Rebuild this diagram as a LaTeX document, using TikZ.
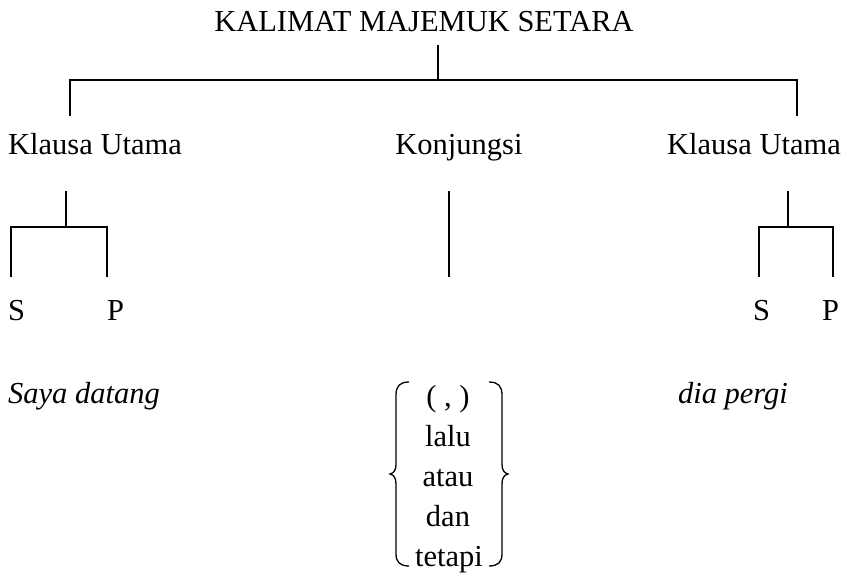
\documentclass[tikz,border=0pt]{standalone}
\usepackage{fontspec}
\setmainfont{Liberation Serif}
\begin{document}
\begin{tikzpicture}[x=1pt,y=-1pt,
  lbl/.style={inner sep=0pt, font=\fontsize{30.5}{38}\selectfont},
  itl/.style={inner sep=0pt, font=\fontsize{30.5}{38}\selectfont\itshape},
  tree/.style={line width=1.7pt, line join=miter},
  brc/.style={line width=1.3pt}]
\useasboundingbox (0,0) rectangle (843,577);
% texts
\node[lbl, anchor=base] (title) at (424,32) {KALIMAT MAJEMUK SETARA};
\node[lbl, anchor=base west] (ku1) at (8,155) {Klausa Utama};
\node[lbl, anchor=base] (konj) at (459,155) {Konjungsi};
\node[lbl, anchor=base east] (ku2) at (841,155) {Klausa Utama};
\node[lbl, anchor=base west] (s1) at (8,320) {S};
\node[lbl, anchor=base west] (p1) at (107,320) {P};
\node[lbl, anchor=base west] (s2) at (753,320) {S};
\node[lbl, anchor=base west] (p2) at (822,320) {P};
\node[itl, anchor=base west] (saya) at (8,403) {Saya datang};
\node[itl, anchor=base] (dia) at (733,403) {dia pergi};
\node[lbl, anchor=base] (c1) at (448,406) {( , )};
\node[lbl, anchor=base] (c2) at (448,446) {lalu};
\node[lbl, anchor=base] (c3) at (448,486) {atau};
\node[lbl, anchor=base] (c4) at (448,526) {dan};
\node[lbl, anchor=base] (c5) at (449,566) {tetapi};
% junction coordinates
\coordinate (t0) at (438,45);
\coordinate (t1) at (438,80);
\coordinate (hl) at (70,80);
\coordinate (hr) at (797,80);
\coordinate (kl) at (70,116);
\coordinate (kr) at (797,116);
\coordinate (a0) at (66,191);
\coordinate (a1) at (66,227);
\coordinate (al) at (11,227);
\coordinate (ar) at (107,227);
\coordinate (as) at (11,277);
\coordinate (ap) at (107,277);
\coordinate (b0) at (449,191);
\coordinate (b1) at (449,277);
\coordinate (d0) at (788,191);
\coordinate (d1) at (788,227);
\coordinate (dl) at (759,227);
\coordinate (dr) at (833,227);
\coordinate (ds) at (759,277);
\coordinate (dp) at (833,277);
% tree lines
\draw[tree] (t0) -- (t1);
\draw[tree] (kl) -- (hl) -- (hr) -- (kr);
\draw[tree] (a0) -- (a1);
\draw[tree] (as) -- (al) -- (ar) -- (ap);
\draw[tree] (b0) -- (b1);
\draw[tree] (d0) -- (d1);
\draw[tree] (ds) -- (dl) -- (dr) -- (dp);
% braces
\draw[brc] (409,382) .. controls (400,382) and (396,386) .. (396,395) -- (396,464)
  .. controls (396,470) and (394,473) .. (390,474)
  .. controls (394,475) and (396,478) .. (396,484) -- (396,554)
  .. controls (396,562) and (400,566) .. (409,566);
\draw[brc] (489,382) .. controls (498,382) and (502,386) .. (502,395) -- (502,464)
  .. controls (502,470) and (504,473) .. (508,474)
  .. controls (504,475) and (502,478) .. (502,484) -- (502,554)
  .. controls (502,562) and (498,566) .. (489,566);
\end{tikzpicture}
\end{document}
